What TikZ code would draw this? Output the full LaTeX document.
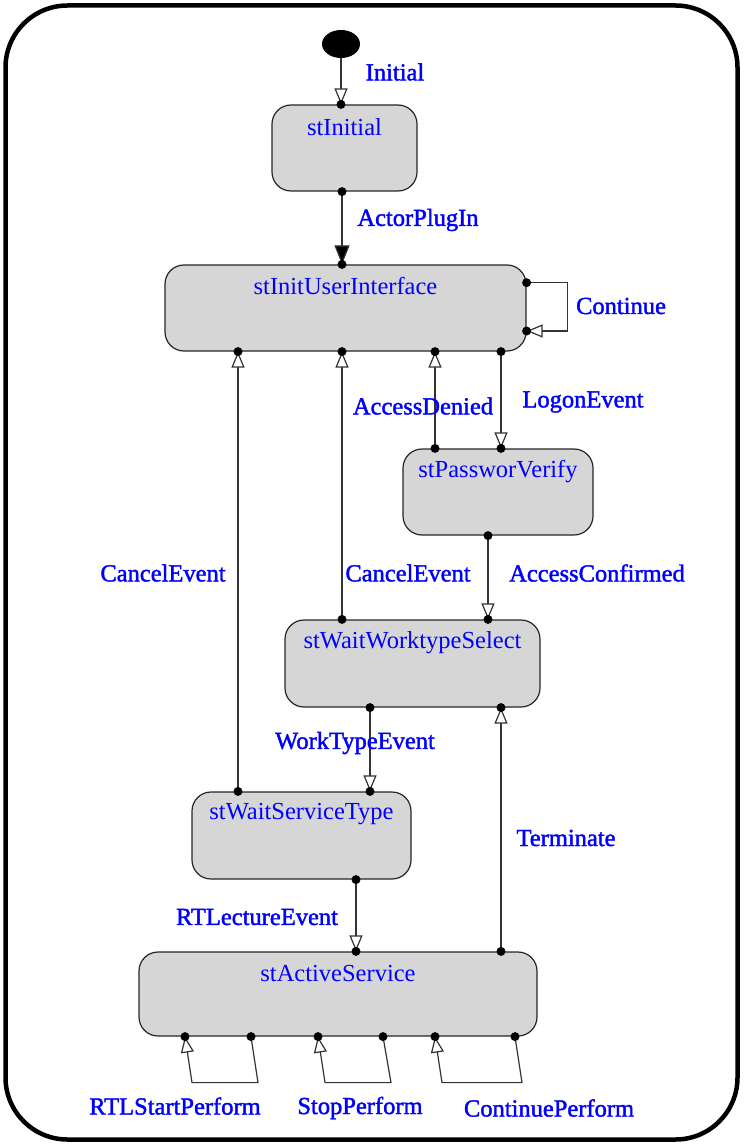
\documentclass[tikz,border=0pt]{standalone}
\usepackage{fontspec}
\setmainfont{Liberation Serif}
\newfontfamily\lblfont{Liberation Serif}[FakeBold=1.6]
\usetikzlibrary{arrows.meta,calc,shapes.geometric}
\definecolor{txtblue}{RGB}{0,0,255}
\definecolor{boxgray}{RGB}{214,214,214}
\begin{document}
\begin{tikzpicture}[x=1pt,y=-1pt,
  state/.style={draw=black!85, fill=boxgray, line width=1.2pt, rounded corners=19pt, inner sep=0pt},
  stname/.style={text=txtblue, font=\fontsize{24.5}{29}\selectfont, inner sep=0pt},
  evlabel/.style={text=txtblue, font=\lblfont\fontsize{24.5}{29}\selectfont, inner sep=0pt},
  conn/.style={draw=black!80, line width=1.2pt},
  openarr/.style={-{Triangle[open,fill=white,length=16pt,width=13pt]}},
  fullarr/.style={-{Triangle[fill=black,length=19pt,width=15pt]}},
  dot/.style={fill=black}
]
\useasboundingbox (0,0) rectangle (744,1147);
% outer frame
\draw[line width=4.5pt, rounded corners=62pt] (5.5,5.5) rectangle (737.5,1139.5);

% initial pseudo-state
\node[ellipse, fill=black, minimum width=38pt, minimum height=28pt, inner sep=0pt] (start) at (341,44) {};

% states
\node[state, minimum width=145pt, minimum height=86pt] (sI)  at (344.5,148) {};
\node[state, minimum width=361pt, minimum height=86pt] (ui)  at (345.5,308) {};
\node[state, minimum width=190pt, minimum height=86pt] (pv)  at (498,492) {};
\node[state, minimum width=255pt, minimum height=87pt] (wws) at (412.5,663.5) {};
\node[state, minimum width=219pt, minimum height=87pt] (wst) at (301.5,835.5) {};
\node[state, minimum width=398pt, minimum height=84pt] (act) at (338,994) {};

\node[stname] at ($(sI.north)+(0,23)$)  {stInitial};
\node[stname] at ($(ui.north)+(0,22)$)  {stInitUserInterface};
\node[stname] at ($(pv.north)+(0,23)$)  {stPassworVerify};
\node[stname] at ($(wws.north)+(0,23)$) {stWaitWorktypeSelect};
\node[stname] at ($(wst.north)+(0,23)$) {stWaitServiceType};
\node[stname] at ($(act.north)+(0,22)$) {stActiveService};

% connection points on the states
\coordinate (sIn) at ($(sI.north)+(-3.5,0)$);
\coordinate (sIs) at ($(sI.south)+(-2.5,0)$);
\coordinate (uin) at ($(ui.north)+(-3.5,0)$);
\coordinate (uiA) at ($(ui.south)+(-107.5,0)$);
\coordinate (uiB) at ($(ui.south)+(-3.5,0)$);
\coordinate (uiC) at ($(ui.south)+(89.5,0)$);
\coordinate (uiD) at ($(ui.south)+(155.5,0)$);
\coordinate (uiE1) at ($(ui.east)+(0,-25.3)$);
\coordinate (uiE2) at ($(ui.east)+(0,23)$);
\coordinate (pvA) at ($(pv.north)+(-63,0)$);
\coordinate (pvB) at ($(pv.north)+(3,0)$);
\coordinate (pvS) at ($(pv.south)+(-10,0)$);
\coordinate (wwsA) at ($(wws.north)+(-70.5,0)$);
\coordinate (wwsB) at ($(wws.north)+(75.5,0)$);
\coordinate (wwsS1) at ($(wws.south)+(-42.5,0)$);
\coordinate (wwsS2) at ($(wws.south)+(88.5,0)$);
\coordinate (wstA) at ($(wst.north)+(-63.5,0)$);
\coordinate (wstB) at ($(wst.north)+(68.5,0)$);
\coordinate (wstS) at ($(wst.south)+(54.5,0)$);
\coordinate (actA) at ($(act.north)+(18,0)$);
\coordinate (actB) at ($(act.north)+(163,0)$);
\coordinate (actS1) at ($(act.south)+(-153,0)$);
\coordinate (actS2) at ($(act.south)+(-87,0)$);
\coordinate (actS3) at ($(act.south)+(-20,0)$);
\coordinate (actS4) at ($(act.south)+(45,0)$);
\coordinate (actS5) at ($(act.south)+(97,0)$);
\coordinate (actS6) at ($(act.south)+(177,0)$);

% transitions
\draw[conn, openarr] (start.south) -- (sIn);
\draw[conn, fullarr] (sIs) -- (uin);
\draw[conn, openarr] (uiE1) -- ++(40.5,0) |- (uiE2);
\draw[conn, openarr] (wstA) -- (uiA);
\draw[conn, openarr] (wwsA) -- (uiB);
\draw[conn, openarr] (pvA) -- (uiC);
\draw[conn, openarr] (uiD) -- (pvB);
\draw[conn, openarr] (pvS) -- (wwsB);
\draw[conn, openarr] (wwsS1) -- (wstB);
\draw[conn, openarr] (actB) -- (wwsS2);
\draw[conn, openarr] (wstS) -- (actA);
\draw[conn, openarr] (actS2) -- ++(7,46) -- ++(-66,0) -- (actS1);
\draw[conn, openarr] (actS4) -- ++(8,46) -- ++(-66,0) -- (actS3);
\draw[conn, openarr] (actS6) -- ++(7,46) -- ++(-80,0) -- (actS5);

% junction dots
\foreach \p in {sIn,sIs,uin,uiA,uiB,uiC,uiD,uiE1,uiE2,pvA,pvB,pvS,wwsA,wwsB,wwsS1,wwsS2,wstA,wstB,wstS,actA,actB,actS1,actS2,actS3,actS4,actS5,actS6}
  \fill[dot] (\p) circle (4.5pt);

% event labels
\node[evlabel] (lInit)  at (395,72)   {Initial};
\node[evlabel] (lPlug)  at (418,220)  {ActorPlugIn};
\node[evlabel] (lCont)  at (621,306)  {Continue};
\node[evlabel] (lDen)   at (423,406)  {AccessDenied};
\node[evlabel] (lLog)   at (583,402)  {LogonEvent};
\node[evlabel] (lCanA)  at (163,573)  {CancelEvent};
\node[evlabel] (lCanB)  at (408,573)  {CancelEvent};
\node[evlabel] (lConf)  at (597,573)  {AccessConfirmed};
\node[evlabel] (lWork)  at (355,743)  {WorkTypeEvent};
\node[evlabel] (lTerm)  at (566,838)  {Terminate};
\node[evlabel] (lLect)  at (257,917)  {RTLectureEvent};
\node[evlabel] (lStart) at (175,1106) {RTLStartPerform};
\node[evlabel] (lStop)  at (360,1108) {StopPerform};
\node[evlabel] (lCPerf) at (549,1108) {ContinuePerform};
\end{tikzpicture}
\end{document}
